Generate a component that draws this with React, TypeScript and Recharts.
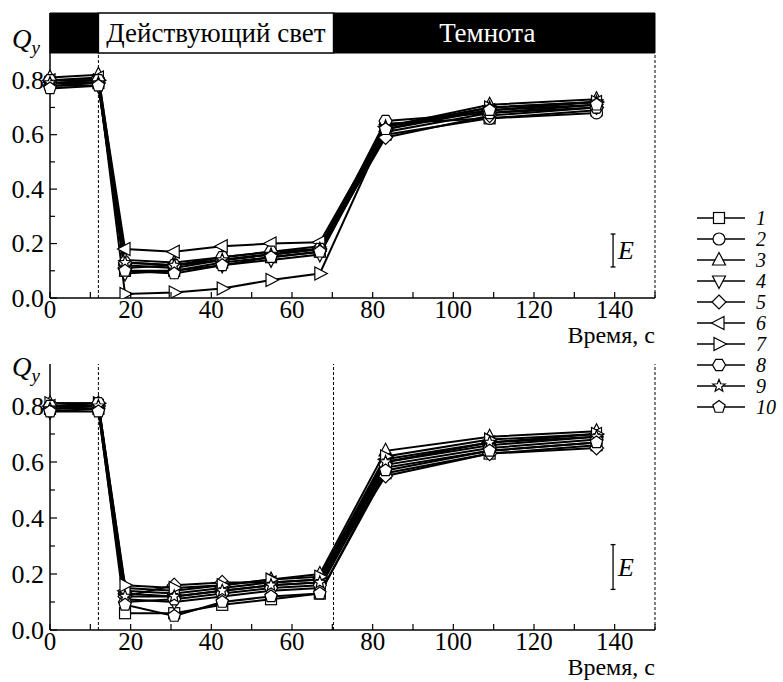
import React from 'react';
import { LineChart, Line, XAxis, YAxis, ReferenceLine, ReferenceArea, Legend } from 'recharts';

const SERIF = '"Times New Roman", Times, "Liberation Serif", serif';

// time points, s
const times = [0, 12, 18.6, 30.8, 42.7, 54.8, 66.9, 83.2, 109, 135.5];
const seriesNames = ['1', '2', '3', '4', '5', '6', '7', '8', '9', '10'];
const markerKinds = ['square', 'circle', 'up', 'down', 'diamond', 'left', 'right', 'hexagon', 'star', 'pentagon'];

// Qy, upper panel
const topSeries = [
  [0.79, 0.79, 0.1, 0.1, 0.13, 0.15, 0.17, 0.6, 0.66, 0.69],
  [0.8, 0.8, 0.12, 0.11, 0.14, 0.16, 0.18, 0.64, 0.66, 0.68],
  [0.81, 0.82, 0.14, 0.13, 0.15, 0.17, 0.19, 0.63, 0.71, 0.73],
  [0.78, 0.78, 0.09, 0.1, 0.12, 0.14, 0.16, 0.61, 0.68, 0.71],
  [0.78, 0.79, 0.11, 0.12, 0.14, 0.16, 0.18, 0.59, 0.67, 0.7],
  [0.8, 0.81, 0.18, 0.17, 0.19, 0.2, 0.205, 0.63, 0.69, 0.72],
  [0.79, 0.8, 0.015, 0.02, 0.035, 0.066, 0.09, 0.62, 0.7, 0.72],
  [0.8, 0.8, 0.13, 0.12, 0.15, 0.17, 0.18, 0.65, 0.68, 0.7],
  [0.79, 0.79, 0.13, 0.12, 0.14, 0.16, 0.18, 0.63, 0.7, 0.72],
  [0.77, 0.78, 0.1, 0.09, 0.12, 0.15, 0.17, 0.62, 0.69, 0.71],
];

// Qy, lower panel
const bottomSeries = [
  [0.79, 0.79, 0.06, 0.06, 0.09, 0.11, 0.13, 0.56, 0.63, 0.66],
  [0.8, 0.8, 0.13, 0.12, 0.14, 0.16, 0.17, 0.6, 0.66, 0.69],
  [0.81, 0.81, 0.15, 0.14, 0.16, 0.18, 0.2, 0.64, 0.69, 0.71],
  [0.78, 0.79, 0.11, 0.1, 0.12, 0.14, 0.15, 0.58, 0.64, 0.67],
  [0.79, 0.8, 0.12, 0.16, 0.17, 0.17, 0.18, 0.55, 0.63, 0.65],
  [0.8, 0.8, 0.14, 0.13, 0.15, 0.17, 0.18, 0.61, 0.67, 0.7],
  [0.81, 0.81, 0.16, 0.15, 0.16, 0.18, 0.19, 0.62, 0.68, 0.7],
  [0.8, 0.81, 0.1, 0.11, 0.13, 0.15, 0.16, 0.59, 0.65, 0.68],
  [0.79, 0.8, 0.12, 0.12, 0.14, 0.16, 0.17, 0.6, 0.67, 0.69],
  [0.78, 0.78, 0.09, 0.05, 0.1, 0.12, 0.13, 0.57, 0.64, 0.67],
];

const yTicks = [0, 0.1, 0.2, 0.3, 0.4, 0.5, 0.6, 0.7, 0.8];
const xTicks = [0, 10, 20, 30, 40, 50, 60, 70, 80, 90, 100, 110, 120, 130, 140, 150];
const lightStart = 12;
const darkStart = 70.3;
const endTime = 150;

function toRows(series: number[][]) {
  return times.map((t, i) => {
    const row: any = { t };
    series.forEach((s, k) => (row['s' + k] = s[i]));
    return row;
  });
}

function Marker({ kind, cx, cy }: { kind: string; cx: number; cy: number }) {
  const st = { fill: '#fff', stroke: '#000', strokeWidth: 1.2 };
  const poly = (pts: number[][]) => <polygon points={pts.map((p) => p.join(',')).join(' ')} {...st} />;
  const reg = (n: number, r: number, rot: number) =>
    Array.from({ length: n }, (_, k) => {
      const a = rot + (k * 2 * Math.PI) / n;
      return [cx + r * Math.cos(a), cy + r * Math.sin(a)];
    });
  switch (kind) {
    case 'square':
      return <rect x={cx - 5.5} y={cy - 5.5} width={11} height={11} {...st} />;
    case 'circle':
      return <circle cx={cx} cy={cy} r={6} {...st} />;
    case 'up':
      return poly([[cx, cy - 7.5], [cx + 6.5, cy + 5], [cx - 6.5, cy + 5]]);
    case 'down':
      return poly([[cx, cy + 7.5], [cx + 6.5, cy - 5], [cx - 6.5, cy - 5]]);
    case 'diamond':
      return poly([[cx, cy - 7], [cx + 7, cy], [cx, cy + 7], [cx - 7, cy]]);
    case 'left':
      return poly([[cx - 7.5, cy], [cx + 5, cy - 6.5], [cx + 5, cy + 6.5]]);
    case 'right':
      return poly([[cx + 7.5, cy], [cx - 5, cy - 6.5], [cx - 5, cy + 6.5]]);
    case 'hexagon':
      return poly(reg(6, 6.5, 0));
    case 'star': {
      const pts = Array.from({ length: 10 }, (_, k) => {
        const a = -Math.PI / 2 + (k * Math.PI) / 5;
        const r = k % 2 === 0 ? 6.5 : 2.8;
        return [cx + r * Math.cos(a), cy + r * Math.sin(a)];
      });
      return poly(pts);
    }
    default:
      return poly(reg(5, 6.5, -Math.PI / 2));
  }
}

const YTick = (props: any) => {
  const { x, y, payload } = props;
  const v = payload.value;
  const major = Math.round(v * 10) % 2 === 0;
  return (
    <g>
      <line x1={x} x2={x + (major ? 7 : 5)} y1={y} y2={y} stroke="#000" strokeWidth={1.2} />
      {major && (
        <text x={x - 6} y={y} textAnchor="end" dominantBaseline="central" fontSize={26} fontFamily={SERIF} fill="#000">
          {v.toFixed(1)}
        </text>
      )}
    </g>
  );
};

const XTick = (props: any) => {
  const { x, y, payload } = props;
  const v = payload.value;
  const labelled = v % 20 === 0 && v < 150;
  return (
    <g>
      <line x1={x} x2={x} y1={y} y2={y - 6} stroke="#000" strokeWidth={1.2} />
      {labelled && (
        <text x={x} y={y + 20} textAnchor="middle" fontSize={25} fontFamily={SERIF} fill="#000">
          {v}
        </text>
      )}
    </g>
  );
};

const qyLabel = (y: number) => () => (
  <text x={12} y={y} fontFamily={SERIF} fontStyle="italic" fontSize={27} fill="#000">
    Q<tspan dy={6} fontSize={19}>y</tspan>
  </text>
);

const timeLabel = (p: any) => {
  const vb = p.viewBox;
  return (
    <text x={vb.x + vb.width} y={vb.y + 45} textAnchor="end" fontFamily={SERIF} fontSize={24} fill="#000">
      Время, с
    </text>
  );
};

const LegendBox = () => (
  <svg width={93} height={215}>
    {seriesNames.map((name, i) => {
      const cy = 13 + i * 21;
      return (
        <g key={name}>
          <line x1={7} x2={55} y1={cy} y2={cy} stroke="#000" strokeWidth={1.5} />
          <Marker kind={markerKinds[i]} cx={29} cy={cy} />
          <text x={66} y={cy} dominantBaseline="central" fontFamily={SERIF} fontStyle="italic" fontSize={20} fill="#000">
            {name}
          </text>
        </g>
      );
    })}
  </svg>
);

function Panel({
  series,
  yMax,
  marginTop,
  qyY,
  errBar,
  dashes,
  header,
  legend,
}: {
  series: number[][];
  yMax: number;
  marginTop: number;
  qyY: number;
  errBar: [number, number];
  dashes: number[];
  header?: boolean;
  legend?: boolean;
}) {
  const rows = toRows(series);
  const dashTop = header ? 0.9 : yMax;
  return (
    <LineChart width={783} height={350} data={rows} margin={{ top: marginTop, right: 128, bottom: 12, left: 10 }}>
      <XAxis
        dataKey="t"
        type="number"
        domain={[0, endTime]}
        ticks={xTicks}
        interval={0}
        tickSize={0}
        tickMargin={0}
        tick={<XTick />}
        height={40}
        axisLine={{ stroke: '#000', strokeWidth: 1.5 }}
        label={{ content: timeLabel }}
      />
      <YAxis
        type="number"
        domain={[0, yMax]}
        allowDataOverflow
        ticks={yTicks}
        interval={0}
        tickSize={0}
        tickMargin={0}
        tick={<YTick />}
        width={40}
        axisLine={{ stroke: '#000', strokeWidth: 1.5 }}
        label={{ content: qyLabel(qyY) }}
      />
      {header && (
        <ReferenceArea x1={0} x2={lightStart} y1={0.9} y2={yMax} fill="#000" fillOpacity={1} stroke="#000" />
      )}
      {header && (
        <ReferenceArea
          x1={lightStart}
          x2={darkStart}
          y1={0.9}
          y2={yMax}
          fill="#fff"
          fillOpacity={1}
          stroke="#000"
          strokeWidth={1.5}
          label={{
            content: (p: any) => (
              <text
                x={p.viewBox.x + p.viewBox.width / 2}
                y={p.viewBox.y + p.viewBox.height / 2}
                textAnchor="middle"
                dominantBaseline="central"
                fontFamily={SERIF}
                fontSize={27}
                fill="#000"
              >
                Действующий свет
              </text>
            ),
          }}
        />
      )}
      {header && (
        <ReferenceArea
          x1={darkStart}
          x2={endTime}
          y1={0.9}
          y2={yMax}
          fill="#000"
          fillOpacity={1}
          stroke="#000"
          label={{
            content: (p: any) => (
              <text
                x={p.viewBox.x + p.viewBox.width / 2 - 7}
                y={p.viewBox.y + p.viewBox.height / 2}
                textAnchor="middle"
                dominantBaseline="central"
                fontFamily={SERIF}
                fontSize={27}
                fill="#fff"
              >
                Темнота
              </text>
            ),
          }}
        />
      )}
      {dashes.map((d) => (
        <ReferenceLine
          key={'d' + d}
          segment={[
            { x: d, y: 0 },
            { x: d, y: dashTop },
          ]}
          stroke="#000"
          strokeWidth={1}
          strokeDasharray="3 2"
        />
      ))}
      <ReferenceLine
        segment={[
          { x: 139.6, y: errBar[0] },
          { x: 139.6, y: errBar[1] },
        ]}
        stroke="#000"
        strokeWidth={1.3}
        label={{
          content: (p: any) => (
            <text
              x={p.viewBox.x + 5}
              y={p.viewBox.y + p.viewBox.height / 2}
              dominantBaseline="central"
              fontFamily={SERIF}
              fontStyle="italic"
              fontSize={26}
              fill="#000"
            >
              E
            </text>
          ),
        }}
      />
      {errBar.map((e) => (
        <ReferenceLine
          key={'c' + e}
          segment={[
            { x: 139, y: e },
            { x: 140.2, y: e },
          ]}
          stroke="#000"
          strokeWidth={1.3}
        />
      ))}
      {series.map((_, k) => (
        <Line
          key={k}
          dataKey={'s' + k}
          name={seriesNames[k]}
          type="linear"
          stroke="#000"
          strokeWidth={2}
          isAnimationActive={false}
          dot={(p: any) => <Marker key={`m${k}-${p.index}`} kind={markerKinds[k]} cx={p.cx} cy={p.cy} />}
          activeDot={false}
        />
      ))}
      {legend && (
        <Legend
          verticalAlign="middle"
          layout="horizontal"
          content={() => <LegendBox />}
          wrapperStyle={{ left: 690, top: 205, width: 93, height: 215 }}
        />
      )}
    </LineChart>
  );
}

export default function App() {
  return (
    <div style={{ position: 'absolute', left: 0, top: 0, width: 783, height: 682, background: '#fff' }}>
      <div style={{ position: 'absolute', left: 0, top: 332 }}>
        <Panel
          series={bottomSeries}
          yMax={0.95}
          marginTop={32}
          qyY={44}
          errBar={[0.145, 0.305]}
          dashes={[lightStart, darkStart, endTime]}
        />
      </div>
      <div style={{ position: 'absolute', left: 0, top: 0 }}>
        <Panel
          series={topSeries}
          yMax={1.047}
          marginTop={13}
          qyY={48}
          errBar={[0.114, 0.235]}
          dashes={[lightStart, endTime]}
          header
          legend
        />
      </div>
    </div>
  );
}
